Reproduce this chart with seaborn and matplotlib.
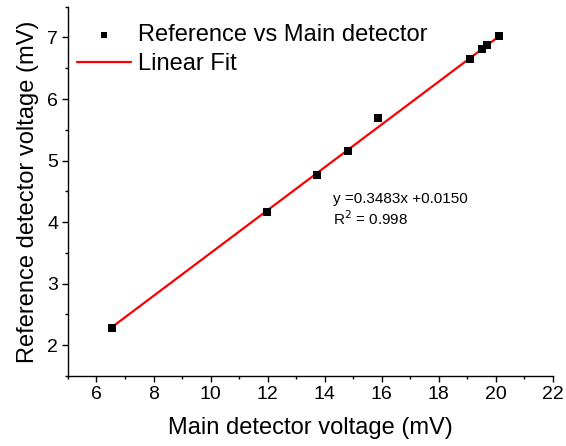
import numpy as np
import pandas as pd
import matplotlib
matplotlib.use("Agg")
import matplotlib.pyplot as plt
import seaborn as sns
from matplotlib.ticker import MultipleLocator

main_mv = [6.55, 11.98, 13.73, 14.81, 15.87, 19.08, 19.50, 19.68, 20.12]
ref_mv = [2.28, 4.17, 4.77, 5.16, 5.69, 6.65, 6.82, 6.87, 7.03]
slope = 0.3483
intercept = 0.0150
r2 = 0.998

sns.set_theme(style="ticks")
plt.rcParams["font.family"] = ["Liberation Sans", "DejaVu Sans"]
plt.rcParams["text.color"] = "black"
plt.rcParams["axes.labelcolor"] = "black"

df = pd.DataFrame({"main": main_mv, "ref": ref_mv})
fit_x = np.array([min(main_mv), max(main_mv)])
fit_df = pd.DataFrame({"main": fit_x, "ref": slope * fit_x + intercept})

fig, ax = plt.subplots(figsize=(5.66, 4.46), dpi=100)
sns.scatterplot(data=df, x="main", y="ref", marker="s", s=32, color="black",
                edgecolor="black", linewidth=0, ax=ax, zorder=3,
                label="Reference vs Main detector")
sns.lineplot(data=fit_df, x="main", y="ref", color="red", linewidth=1.6, ax=ax,
             zorder=2, label="Linear Fit")

ax.set_xlim(5, 22)
ax.set_ylim(1.5, 7.5)
ax.xaxis.set_major_locator(MultipleLocator(2))
ax.xaxis.set_minor_locator(MultipleLocator(1))
ax.yaxis.set_major_locator(MultipleLocator(1))
ax.yaxis.set_minor_locator(MultipleLocator(0.5))
ax.tick_params(axis="both", which="major", labelsize=14, length=4, width=1,
               direction="out", pad=3, colors="black")
ax.tick_params(axis="both", which="minor", length=2.5, width=1, direction="out",
               colors="black")
for s in ["top", "right"]:
    ax.spines[s].set_visible(False)
for s in ["left", "bottom"]:
    ax.spines[s].set_linewidth(1)
    ax.spines[s].set_color("black")

ax.set_xlabel("Main detector voltage (mV)", fontsize=17, labelpad=10, color="black")
ax.set_ylabel("Reference detector voltage (mV)", fontsize=17, labelpad=6, color="black")

ax.text(14.29, 4.38, f"y ={slope:.4f}x +{intercept:.4f}", fontsize=11, va="center",
        color="black")
ax.text(14.29, 4.05, f"R$^2$ = {r2}", fontsize=11, va="center", color="black")

leg = ax.legend(loc="upper left", bbox_to_anchor=(-0.017, 1.0), frameon=False,
                fontsize=17, handlelength=2.25, borderaxespad=0.45,
                labelspacing=0.27, handletextpad=0.3, markerscale=0.75,
                borderpad=0.3)
for t in leg.get_texts():
    t.set_color("black")

fig.subplots_adjust(left=0.12, right=0.977, bottom=0.157, top=0.985)
fig.savefig("out.png", dpi=100)
